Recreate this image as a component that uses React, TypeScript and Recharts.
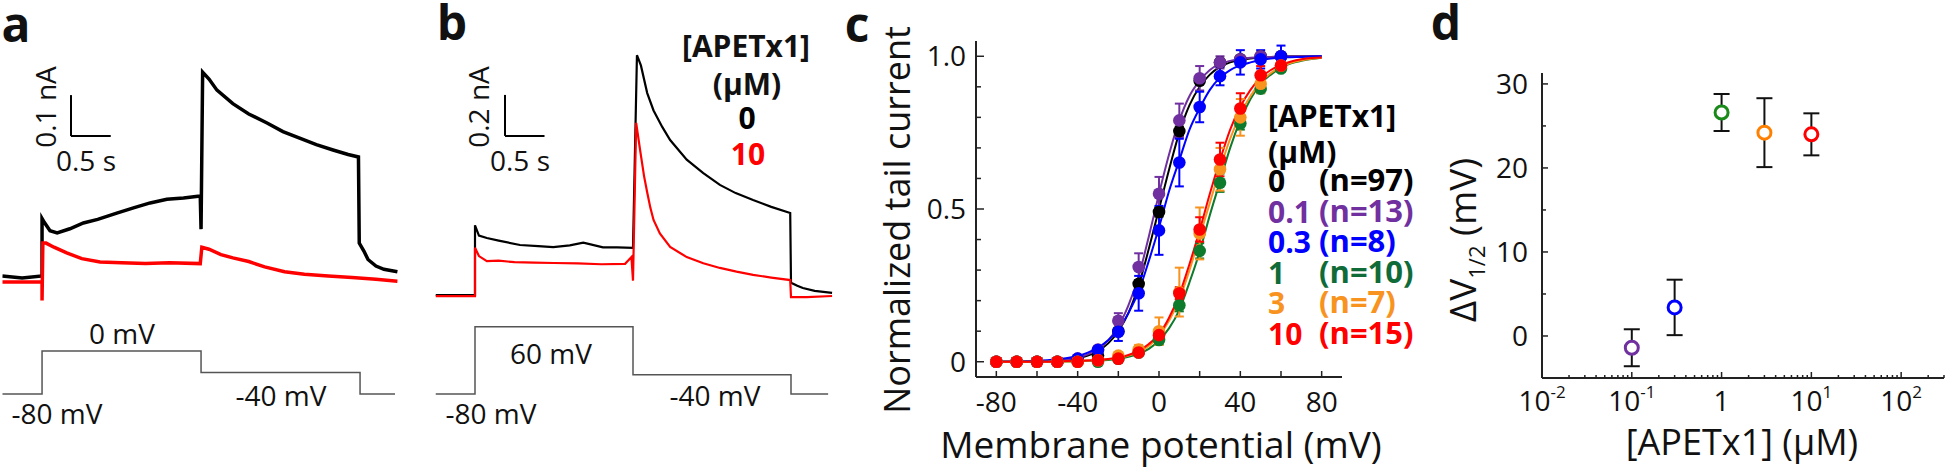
import React from "react"
import { ComposedChart, Line, Scatter, XAxis, YAxis, ErrorBar, ReferenceLine } from "recharts"

const FONT = "'Open Sans', 'Noto Sans', sans-serif"
const AXIS = "#222"
const PURPLE = "#7030a0"
const BLUE = "#0000ff"
const GREEN = "#0d7a2c"
const GREEN_TXT = "#0f6b38"
const ORANGE = "#f7931e"
const RED = "#ff0000"

// ---- panel a: current traces [time s, current nA] and voltage step [time s, mV]
const aControl: [number, number][] = [
  [0, 0.01], [0.25, 0.005], [0.5, 0.01], [0.5, 0.15], [0.53, 0.14], [0.6, 0.12], [0.69, 0.115],
  [0.85, 0.125], [1.02, 0.139], [1.2, 0.148], [1.44, 0.163], [1.65, 0.176], [1.86, 0.188],
  [2.07, 0.197], [2.28, 0.2], [2.49, 0.205], [2.5, 0.124], [2.52, 0.507], [2.6, 0.49], [2.7, 0.463],
  [2.9, 0.43], [3.1, 0.405], [3.33, 0.383], [3.53, 0.362], [3.74, 0.346], [3.95, 0.33], [4.16, 0.317],
  [4.35, 0.306], [4.48, 0.3], [4.49, 0.09], [4.55, 0.07], [4.6, 0.05], [4.7, 0.034], [4.8, 0.026], [4.97, 0.02],
]
const aToxin: [number, number][] = [
  [0, -0.005], [0.5, -0.005], [0.5, -0.05], [0.51, 0.09], [0.55, 0.09], [0.65, 0.08], [0.81, 0.066],
  [1.0, 0.052], [1.23, 0.044], [1.5, 0.042], [1.8, 0.04], [2.1, 0.042], [2.49, 0.04], [2.51, 0.08],
  [2.6, 0.075], [2.75, 0.062], [2.9, 0.054], [3.1, 0.045], [3.3, 0.032], [3.55, 0.02], [3.8, 0.014],
  [4.1, 0.01], [4.4, 0.006], [4.7, 0.002], [4.97, -0.003],
]
const aProtocol: [number, number][] = [
  [0, -80], [0.5, -80], [0.5, 0], [2.5, 0], [2.5, -40], [4.5, -40], [4.5, -80], [4.94, -80],
]

// ---- panel b
const bControl: [number, number][] = [
  [0, 0], [0.5, 0], [0.5, 0.34], [0.55, 0.29], [0.65, 0.278], [0.8, 0.265], [1.07, 0.244], [1.3, 0.238],
  [1.49, 0.234], [1.7, 0.242], [1.87, 0.255], [1.95, 0.248], [2.12, 0.232], [2.3, 0.232], [2.5, 0.23],
  [2.55, 1.17], [2.6, 1.12], [2.68, 0.985], [2.76, 0.9], [2.87, 0.82], [2.97, 0.756], [3.18, 0.66],
  [3.39, 0.595], [3.6, 0.537], [3.8, 0.497], [4.02, 0.463], [4.25, 0.43], [4.49, 0.4], [4.5, 0.06],
  [4.58, 0.045], [4.65, 0.034], [4.8, 0.02], [5.02, 0.01],
]
const bToxin: [number, number][] = [
  [0, -0.005], [0.5, -0.005], [0.5, 0.23], [0.55, 0.19], [0.65, 0.165], [0.8, 0.168], [1.0, 0.16],
  [1.25, 0.158], [1.5, 0.156], [1.8, 0.154], [2.1, 0.15], [2.4, 0.152], [2.48, 0.185], [2.5, 0.07],
  [2.54, 0.84], [2.57, 0.76], [2.59, 0.707], [2.64, 0.58], [2.68, 0.5], [2.72, 0.425], [2.76, 0.366],
  [2.84, 0.3], [2.97, 0.234], [3.18, 0.185], [3.39, 0.155], [3.6, 0.132], [3.81, 0.114], [4.02, 0.098],
  [4.25, 0.085], [4.49, 0.073], [4.5, -0.01], [4.7, -0.01], [5.02, -0.005],
]
const bProtocol: [number, number][] = [
  [0, -80], [0.5, -80], [0.5, 60], [2.5, 60], [2.5, -40], [4.5, -40], [4.5, -80], [4.97, -80],
]

// ---- panel c: normalized tail current vs voltage
const cVolts = [-80, -70, -60, -50, -40, -30, -20, -10, 0, 10, 20, 30, 40, 50, 60]
const c0Mean = [0, 0, 0, 0, 0.005, 0.02, 0.1, 0.255, 0.49, 0.755, 0.92, 0.98, 0.99, 1.0, 1.0]
const c0Err = [0, 0, 0, 0, 0.003, 0.005, 0.01, 0.012, 0.015, 0.015, 0.01, 0.006, 0.005, 0.003, 0.003]
const c01Mean = [0, 0, 0, 0, 0.01, 0.04, 0.134, 0.31, 0.55, 0.79, 0.928, 0.98, 0.99, 1.0, 1.0]
const c01Err = [0, 0, 0, 0, 0.005, 0.01, 0.025, 0.045, 0.055, 0.055, 0.04, 0.02, 0.01, 0.005, 0.005]
const c03Mean = [0, 0, 0, 0, 0.01, 0.038, 0.098, 0.224, 0.43, 0.652, 0.834, 0.935, 0.98, 0.99, 1.0]
const c03Err = [0, 0, 0, 0, 0.005, 0.01, 0.03, 0.057, 0.08, 0.078, 0.05, 0.03, 0.04, 0.03, 0.035]
const c1Mean = [0, 0, 0, 0, 0, 0, 0.01, 0.03, 0.071, 0.185, 0.363, 0.586, 0.78, 0.894, 0.96]
const c1Err = [0, 0, 0, 0, 0, 0, 0.005, 0.01, 0.015, 0.02, 0.025, 0.03, 0.02, 0.015, 0.01]
const c3Mean = [0, 0, 0, 0, 0, 0.005, 0.02, 0.04, 0.1, 0.228, 0.42, 0.63, 0.8, 0.91, 0.97]
const c3Err = [0, 0, 0, 0, 0, 0.005, 0.01, 0.015, 0.045, 0.08, 0.085, 0.07, 0.06, 0.03, 0.02]
const c10Mean = [0, 0, 0, 0, 0, 0.005, 0.01, 0.03, 0.087, 0.224, 0.433, 0.662, 0.829, 0.938, 0.97]
const c10Err = [0, 0, 0, 0, 0, 0.003, 0.005, 0.01, 0.015, 0.02, 0.04, 0.055, 0.05, 0.03, 0.02]

// fitted Boltzmann curves, every 5 mV
const cFitVolts = [
  -80, -75, -70, -65, -60, -55, -50, -45, -40, -35, -30, -25, -20, -15, -10, -5, 0,
  5, 10, 15, 20, 25, 30, 35, 40, 45, 50, 55, 60, 65, 70, 75, 80,
]
const c0Fit = [
  0, 0, 0, 0, 0.001, 0.002, 0.004, 0.007, 0.012, 0.02, 0.035, 0.06, 0.1, 0.16, 0.25, 0.37, 0.5,
  0.63, 0.75, 0.84, 0.9, 0.94, 0.965, 0.98, 0.988, 0.993, 0.996, 0.998, 0.999, 1, 1, 1, 1,
]
const c01Fit = [
  0, 0, 0, 0, 0.001, 0.002, 0.005, 0.008, 0.014, 0.024, 0.042, 0.07, 0.115, 0.185, 0.28, 0.41, 0.55,
  0.68, 0.79, 0.87, 0.92, 0.955, 0.975, 0.985, 0.991, 0.995, 0.997, 0.998, 0.999, 1, 1, 1, 1,
]
const c03Fit = [
  0, 0.001, 0.001, 0.002, 0.003, 0.005, 0.008, 0.012, 0.019, 0.03, 0.046, 0.07, 0.105, 0.16, 0.23, 0.33, 0.44,
  0.56, 0.66, 0.76, 0.83, 0.89, 0.93, 0.955, 0.97, 0.98, 0.988, 0.993, 0.996, 0.997, 0.998, 0.999, 1,
]
const c1Fit = [
  0, 0, 0, 0, 0, 0, 0.001, 0.001, 0.002, 0.003, 0.004, 0.006, 0.01, 0.016, 0.026, 0.042, 0.07,
  0.11, 0.17, 0.26, 0.36, 0.48, 0.59, 0.7, 0.79, 0.86, 0.91, 0.94, 0.963, 0.977, 0.985, 0.991, 0.995,
]
const c3Fit = [
  0, 0, 0, 0, 0, 0, 0.001, 0.001, 0.002, 0.004, 0.005, 0.008, 0.012, 0.02, 0.032, 0.052, 0.085,
  0.135, 0.205, 0.3, 0.41, 0.52, 0.63, 0.73, 0.81, 0.87, 0.915, 0.945, 0.966, 0.979, 0.987, 0.992, 0.995,
]
const c10Fit = [
  0, 0, 0, 0, 0, 0, 0.001, 0.002, 0.003, 0.004, 0.006, 0.009, 0.014, 0.022, 0.036, 0.058, 0.09,
  0.145, 0.22, 0.32, 0.43, 0.55, 0.66, 0.76, 0.835, 0.89, 0.93, 0.955, 0.972, 0.983, 0.99, 0.994, 0.996,
]
const cConcLabels = ["0", "0.1", "0.3", "1", "3", "10"]
const cCounts = [97, 13, 8, 10, 7, 15]
const cXTicks = [-80, -60, -40, -20, 0, 20, 40, 60, 80]
const cXLabels = [-80, -40, 0, 40, 80]
const cYTicks = [0, 0.1, 0.2, 0.3, 0.4, 0.5, 0.6, 0.7, 0.8, 0.9, 1.0]
const cYLabels: Record<string, string> = { "0": "0", "0.5": "0.5", "1": "1.0" }

// ---- panel d: shift of V1/2 vs concentration
const dConc = [0.1, 0.3, 1, 3, 10]
const dShift = [-1.4, 3.4, 26.6, 24.2, 24.0]
const dSem = [2.2, 3.3, 2.2, 4.1, 2.5]
const dColors = [PURPLE, BLUE, "#1a8a1a", "#ff8000", RED]
const dMajor = [0.01, 0.1, 1, 10, 100]
const dYTicks = [0, 5, 10, 15, 20, 25, 30]
const dYLabels = [0, 10, 20, 30]

const toTI = (arr: [number, number][]) => arr.map(([t, i]) => ({ t, i }))
const toTV = (arr: [number, number][]) => arr.map(([t, v]) => ({ t, v }))
// domain of a hidden axis so that `val` sits at pixel `px` of a 467px tall plot
const fitDomain = (val: number, px: number, perUnit: number, h = 467): [number, number] => [
  val - (h - px) / perUnit,
  val + px / perUnit,
]

function Txt({ x, y, size = 28, bold = false, color = "#111", rot = false, start = false, lh = 1, children }: any) {
  return (
    <div
      style={{
        position: "absolute",
        left: x,
        top: y,
        fontSize: size,
        fontWeight: bold ? 700 : 400,
        color,
        lineHeight: lh,
        whiteSpace: "nowrap",
        transform: `translate(${start ? "0" : "-50%"}, -50%)${rot ? " rotate(-90deg)" : ""}`,
      }}
    >
      {children}
    </div>
  )
}

function TracePanel({ left, t0px, pxPerS, i0px, pxPerNa, pxPerMv, control, toxin, protocol, bar, width }: any) {
  const ml = t0px - left
  return (
    <div style={{ position: "absolute", left, top: 0 }}>
      <ComposedChart width={420} height={467} margin={{ top: 0, right: 0, bottom: 0, left: ml }}>
        <XAxis type="number" dataKey="t" domain={[0, (420 - ml) / pxPerS]} hide allowDataOverflow />
        <YAxis yAxisId="i" type="number" domain={fitDomain(0, i0px, pxPerNa)} hide allowDataOverflow />
        <YAxis yAxisId="v" type="number" domain={fitDomain(-80, 394, pxPerMv)} hide allowDataOverflow />
        <Line yAxisId="v" data={toTV(protocol)} dataKey="v" type="linear" stroke="#555" strokeWidth={1.5} dot={false} isAnimationActive={false} />
        <Line yAxisId="i" data={toTI(control)} dataKey="i" type="linear" stroke="#000" strokeWidth={width} dot={false} isAnimationActive={false} />
        <Line yAxisId="i" data={toTI(toxin)} dataKey="i" type="linear" stroke={RED} strokeWidth={width} dot={false} isAnimationActive={false} />
        <ReferenceLine yAxisId="i" segment={[{ x: bar.t, y: bar.i + bar.di }, { x: bar.t, y: bar.i }]} stroke="#000" strokeWidth={2} />
        <ReferenceLine yAxisId="i" segment={[{ x: bar.t, y: bar.i }, { x: bar.t + bar.dt, y: bar.i }]} stroke="#000" strokeWidth={2} />
      </ComposedChart>
    </div>
  )
}

function CXTick({ x, y, payload }: any) {
  const v = payload.value
  return (
    <g>
      <line x1={x} x2={x} y1={y} y2={y - 6} stroke={AXIS} strokeWidth={1.5} />
      {cXLabels.includes(v) && (
        <text x={x} y={y + 35} textAnchor="middle" fontSize={28} fontFamily={FONT} fill="#111">{v}</text>
      )}
    </g>
  )
}

function CYTick({ x, y, payload }: any) {
  const lab = cYLabels[String(payload.value)]
  return (
    <g>
      <line x1={x} x2={x + (lab ? 8 : 5)} y1={y} y2={y} stroke={AXIS} strokeWidth={1.5} />
      {lab && (
        <text x={x - 10} y={y + 10} textAnchor="end" fontSize={28} fontFamily={FONT} fill="#111">{lab}</text>
      )}
    </g>
  )
}

function DXTick({ x, y, payload }: any) {
  const v = payload.value
  const e = Math.round(Math.log10(v))
  const major = dMajor.includes(v)
  return (
    <g>
      <line x1={x} x2={x} y1={y} y2={y - (major ? 6 : 3)} stroke={AXIS} strokeWidth={1.5} />
      {major && (
        <text x={x} y={y + 33} textAnchor="middle" fontSize={28} fontFamily={FONT} fill="#111">
          {v === 1 ? "1" : (
            <>
              10<tspan dy={-13} fontSize={17}>{e}</tspan>
            </>
          )}
        </text>
      )}
    </g>
  )
}

function DYTick({ x, y, payload }: any) {
  const major = dYLabels.includes(payload.value)
  return (
    <g>
      <line x1={x} x2={x + (major ? 6 : 4)} y1={y} y2={y} stroke={AXIS} strokeWidth={1.5} />
      {major && (
        <text x={x - 14} y={y + 10} textAnchor="end" fontSize={28} fontFamily={FONT} fill="#111">{payload.value}</text>
      )}
    </g>
  )
}

export default function App() {
  const cSeries = [
    { mean: c0Mean, err: c0Err, fit: c0Fit, color: "#000", txt: "#000" },
    { mean: c01Mean, err: c01Err, fit: c01Fit, color: PURPLE, txt: PURPLE },
    { mean: c03Mean, err: c03Err, fit: c03Fit, color: BLUE, txt: BLUE },
    { mean: c1Mean, err: c1Err, fit: c1Fit, color: GREEN, txt: GREEN_TXT },
    { mean: c3Mean, err: c3Err, fit: c3Fit, color: ORANGE, txt: ORANGE },
    { mean: c10Mean, err: c10Err, fit: c10Fit, color: RED, txt: RED },
  ].map((s, k) => ({
    ...s,
    label: cConcLabels[k],
    n: cCounts[k],
    points: cVolts.map((v, j) => ({ v, g: s.mean[j], e: s.err[j] })),
    curve: cFitVolts.map((v, j) => ({ v, g: s.fit[j] })),
  }))

  const dData = dConc.map((x, k) => ({ x, y: dShift[k], e: dSem[k], color: dColors[k] }))
  const dXTicks: number[] = []
  for (const m of dMajor) for (let k = 1; k <= 9; k++) if (m * k <= 300) dXTicks.push(+(m * k).toPrecision(3))

  return (
    <div style={{ position: "absolute", left: 0, top: 0, width: 1946, height: 467, background: "#fff", overflow: "hidden", fontFamily: FONT }}>
      <TracePanel
        left={0} t0px={2.3} pxPerS={79.5} i0px={280} pxPerNa={410} pxPerMv={0.5375}
        control={aControl} toxin={aToxin} protocol={aProtocol} width={3.5}
        bar={{ t: 0.864, i: 0.351, dt: 0.5, di: 0.1 }}
      />
      <TracePanel
        left={420} t0px={435.5} pxPerS={79} i0px={295} pxPerNa={205} pxPerMv={0.48}
        control={bControl} toxin={bToxin} protocol={bProtocol} width={2.2}
        bar={{ t: 0.88, i: 0.776, dt: 0.5, di: 0.2 }}
      />

      {/* panel c */}
      <div style={{ position: "absolute", left: 840, top: 0 }}>
        <ComposedChart width={510} height={467} margin={{ top: 41, right: 8, bottom: 41, left: 0 }}>
          <XAxis
            type="number" dataKey="v" domain={[-90, 90]} ticks={cXTicks} interval={0} height={49}
            tick={(p: any) => <CXTick {...p} />} tickLine={false} tickSize={0} tickMargin={0}
            axisLine={{ stroke: AXIS, strokeWidth: 2 }} allowDataOverflow
          />
          <YAxis
            type="number" dataKey="g" domain={[-0.05, 1.05]} ticks={cYTicks} interval={0} width={136}
            tick={(p: any) => <CYTick {...p} />} tickLine={false} tickSize={0} tickMargin={0}
            axisLine={{ stroke: AXIS, strokeWidth: 2 }} allowDataOverflow
          />
          {cSeries.map((s, k) => (
            <Line key={"f" + k} data={s.curve} dataKey="g" type="monotone" stroke={s.color} strokeWidth={2} dot={false} isAnimationActive={false} />
          ))}
          {cSeries.map((s, k) => (
            <Scatter
              key={"p" + k} data={s.points} isAnimationActive={false}
              shape={(p: any) => <circle cx={p.cx} cy={p.cy} r={6.3} fill={s.color} />}
            >
              <ErrorBar dataKey="e" direction="y" width={4.5} stroke={s.color} strokeWidth={2} />
            </Scatter>
          ))}
        </ComposedChart>
      </div>

      {/* panel d */}
      <div style={{ position: "absolute", left: 1440, top: 0 }}>
        <ComposedChart width={506} height={467} margin={{ top: 73, right: 2, bottom: 39, left: 0 }}>
          <XAxis
            type="number" scale="log" dataKey="x" domain={[0.01, 300]} ticks={dXTicks} interval={0} height={50}
            tick={(p: any) => <DXTick {...p} />} tickLine={false} tickSize={0} tickMargin={0}
            axisLine={{ stroke: AXIS, strokeWidth: 2 }} allowDataOverflow
          />
          <YAxis
            type="number" dataKey="y" domain={[-5, 31.3]} ticks={dYTicks} interval={0} width={102}
            tick={(p: any) => <DYTick {...p} />} tickLine={false} tickSize={0} tickMargin={0}
            axisLine={{ stroke: AXIS, strokeWidth: 2 }} allowDataOverflow
          />
          <Scatter
            data={dData} isAnimationActive={false}
            shape={(p: any) => <circle cx={p.cx} cy={p.cy} r={6.5} fill="#fff" stroke={p.payload.color} strokeWidth={3} />}
          >
            <ErrorBar dataKey="e" direction="y" width={8} stroke="#111" strokeWidth={2} />
          </Scatter>
        </ComposedChart>
      </div>

      {/* panel letters */}
      <Txt x={16} y={24} size={48} bold lh={0.8}>a</Txt>
      <Txt x={452} y={22} size={48} bold lh={0.8}>b</Txt>
      <Txt x={857} y={24} size={48} bold lh={0.8}>c</Txt>
      <Txt x={1446} y={22} size={48} bold lh={0.8}>d</Txt>

      {/* panel a annotations */}
      <Txt x={45} y={107} rot>0.1 nA</Txt>
      <Txt x={86} y={160}>0.5 s</Txt>
      <Txt x={122} y={333}>0 mV</Txt>
      <Txt x={57} y={413}>-80 mV</Txt>
      <Txt x={281} y={395}>-40 mV</Txt>

      {/* panel b annotations */}
      <Txt x={478} y={107} rot>0.2 nA</Txt>
      <Txt x={520} y={160}>0.5 s</Txt>
      <Txt x={746} y={45} size={30} bold lh={0.9}>[APETx1]</Txt>
      <Txt x={747} y={83} size={30} bold lh={0.9}>(μM)</Txt>
      <Txt x={747} y={117} size={30} bold lh={0.9} color="#000">0</Txt>
      <Txt x={748} y={153} size={30} bold lh={0.9} color={RED}>10</Txt>
      <Txt x={551} y={353}>60 mV</Txt>
      <Txt x={491} y={413}>-80 mV</Txt>
      <Txt x={715} y={395}>-40 mV</Txt>

      {/* panel c labels and legend */}
      <Txt x={897} y={220} size={36} rot>Normalized tail current</Txt>
      <Txt x={1161} y={443} size={37}>Membrane potential (mV)</Txt>
      <Txt x={1268} y={115} size={30} bold start lh={0.9} color="#000">[APETx1]</Txt>
      <Txt x={1268} y={151} size={30} bold start lh={0.9} color="#000">(μM)</Txt>
      {cSeries.map((s, k) => (
        <React.Fragment key={"l" + k}>
          <Txt x={1268} y={180 + k * 30.6} size={30} bold start lh={0.9} color={s.txt}>{s.label}</Txt>
          <Txt x={1319} y={180 + k * 30.6} size={31} bold start lh={0.9} color={s.txt}>(n={s.n})</Txt>
        </React.Fragment>
      ))}

      {/* panel d labels */}
      <Txt x={1461} y={240} size={37} rot>
        ΔV<span style={{ fontSize: 22, position: "relative", top: 9 }}>1/2</span> (mV)
      </Txt>
      <Txt x={1742} y={442} size={36}>[APETx1] (μM)</Txt>
    </div>
  )
}
